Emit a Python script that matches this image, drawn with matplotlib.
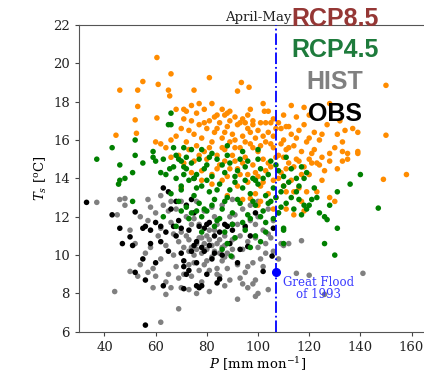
import matplotlib
matplotlib.use("Agg")
import matplotlib.pyplot as plt
import numpy as np

# April-May precipitation (mm/mon) vs surface temperature (degC)
rcp85_pts = [
    (60.5, 20.3), (66, 19.45), (55, 19.05), (81, 19.25), (93.5, 19.0), (96.5, 18.75),
    (61, 18.9), (46, 18.6), (53, 18.6), (65, 18.6), (75, 18.6), (92, 18.55), (65.5, 18.3),
    (150, 18.85), (53, 17.75), (60.5, 17.15), (52, 17.05), (44.5, 16.25), (52.5, 16.35),
    (60, 15.9), (68, 17.6), (71, 17.6), (77, 17.9), (79, 17.6), (82, 17.9), (84, 17.3),
    (87, 17.3), (89, 17.5), (91, 17.2), (96, 17.3), (98, 17.0), (102, 17.9), (102.5, 17.5),
    (113, 17.8), (118, 17.7), (120, 17.3), (128, 17.9), (132, 17.0), (134, 16.5), (137, 16.6),
    (139, 16.4), (150, 16.25), (139, 15.4), (139, 15.3), (135, 15.0), (133, 14.9), (131, 14.5),
    (128, 14.9), (124, 14.7), (120, 14.2), (158, 14.2), (149, 13.95), (128, 13.0), (130, 12.8),
    (114, 12.1), (111, 12.4), (106, 12.4), (101, 12.8), (97, 12.95), (127, 16.8), (125, 16.3),
    (131, 16.3), (133, 15.9), (130, 15.6), (133, 15.4), (135, 15.3), (128, 15.3), (125, 15.1),
    (121, 15.3),
    (68, 16.2), (70, 16.6), (71, 17.1), (72, 15.9), (73, 16.5), (74, 17.0), (75, 16.3),
    (76, 15.7), (77, 16.8), (78, 16.1), (79, 15.4), (80, 16.6), (81, 17.0), (82, 15.9),
    (83, 16.4), (84, 15.2), (85, 16.9), (86, 16.1), (87, 15.5), (88, 16.7), (89, 15.9),
    (90, 16.3), (91, 14.9), (92, 16.8), (93, 15.6), (94, 16.2), (95, 15.1), (96, 16.6),
    (97, 15.8), (98, 14.7), (99, 16.1), (100, 15.4), (101, 16.9), (102, 15.0), (103, 15.9),
    (104, 16.4), (105, 14.6), (106, 15.6), (107, 16.6), (108, 15.2), (109, 14.3), (110, 16.0),
    (111, 15.5), (112, 14.8), (113, 16.3), (114, 15.7), (115, 15.0), (116, 16.5), (117, 15.4),
    (118, 14.6), (119, 15.9), (120, 16.1), (122, 15.5), (123, 14.8), (124, 16.0),
    (69, 15.2), (71, 14.8), (73, 15.5), (75, 14.9), (76, 17.4), (78, 14.4), (79, 16.9),
    (80, 15.0), (82, 14.2), (83, 17.2), (84, 16.6), (85, 14.7), (86, 15.6), (87, 16.4),
    (88, 14.1), (89, 17.0), (90, 15.2), (91, 16.0), (92, 14.5), (93, 16.9), (94, 14.8),
    (95, 16.9), (96, 14.2), (97, 16.4), (98, 15.6), (99, 14.3), (100, 16.5), (101, 15.7),
    (102, 13.8), (103, 16.9), (104, 14.8), (105, 15.8), (106, 13.9), (107, 15.1), (108, 16.9),
    (109, 15.8), (110, 13.6), (111, 14.5), (112, 16.7), (113, 13.9), (114, 14.6), (115, 16.1),
    (116, 13.5), (117, 14.2), (119, 13.3), (121, 14.8), (126, 14.4), (115, 17.2), (110, 17.3),
    (106, 17.1), (104, 17.5), (97, 17.6), (94, 17.1), (88, 17.4), (86, 17.6), (74, 17.8),
    (72, 17.5), (66, 16.0), (64, 15.6), (66, 15.1), (62, 15.8),
    (77, 15.2), (81, 15.6), (84, 14.5), (87, 14.9), (89, 14.5), (91, 15.6), (93, 14.2),
    (95, 15.9), (96, 13.8), (98, 16.8), (100, 14.1), (101, 13.6), (102, 16.2), (103, 14.4),
    (105, 16.9), (106, 16.2), (108, 14.0), (109, 16.6), (110, 15.1), (111, 16.7), (112, 15.6),
    (114, 13.3), (116, 14.9), (118, 16.8), (120, 15.0), (122, 16.4), (92, 13.6), (86, 13.9),
    (82, 13.7), (78, 13.9), (74, 14.3), (70, 13.5), (99, 13.2), (104, 13.2), (107, 13.0),
    (111, 13.3), (117, 12.8), (125, 13.9), (123, 13.3), (118, 12.3), (100, 12.6), (94, 12.9),
    (88, 13.1),
]

rcp45_pts = [
    (37, 15.0), (43, 15.6), (46, 14.7), (46, 13.9), (45.5, 13.7), (48, 14.0), (52, 15.2),
    (52, 16.0), (51, 14.3), (51, 12.8), (55, 14.8), (59, 15.4), (59, 15.1), (60, 14.9),
    (62, 14.3), (63, 15.0), (64, 14.2), (65.5, 14.5), (66, 17.4), (65, 16.8), (66, 16.8),
    (67, 15.6), (69, 15.0), (70, 14.9), (71, 14.2), (72, 14.5), (70, 13.6),
    (140, 14.2), (136, 13.7), (131, 13.3), (128, 12.6), (147, 12.45), (126, 12.0), (124, 12.2),
    (127, 11.85), (131, 11.4), (126, 10.6), (130, 10.0), (110, 11.4), (110, 11.3), (110, 10.6),
    (120, 12.6), (118, 12.6), (116, 12.9), (115, 13.3), (119, 14.3), (123, 13.0), (89.5, 9.95),
    (66, 13.2), (68, 14.0), (69, 12.8), (70, 13.4), (71, 14.6), (72, 12.5), (73, 13.9),
    (74, 14.8), (75, 13.1), (76, 14.2), (77, 12.7), (78, 13.6), (79, 14.5), (80, 12.3),
    (81, 13.3), (82, 14.1), (83, 12.9), (84, 15.0), (85, 13.7), (86, 12.4), (87, 14.3),
    (88, 13.0), (89, 14.8), (90, 12.2), (91, 13.8), (92, 14.4), (93, 12.7), (94, 13.5),
    (95, 14.6), (96, 12.1), (97, 13.2), (98, 14.0), (99, 12.6), (100, 13.7), (101, 14.5),
    (102, 12.3), (103, 13.1), (104, 14.2), (105, 12.8), (106, 13.5), (107, 14.7), (108, 12.2),
    (109, 13.3), (110, 14.1), (111, 12.7), (112, 13.8), (113, 14.5), (114, 12.4), (116, 13.6),
    (117, 12.1), (118, 14.0), (121, 12.9), (122, 13.5),
    (67, 14.6), (70, 12.3), (72, 15.1), (74, 12.2), (75, 14.0), (77, 15.0), (78, 12.0),
    (80, 13.9), (81, 15.1), (82, 12.6), (84, 13.4), (85, 11.9), (86, 14.7), (87, 12.8),
    (88, 15.2), (89, 13.4), (90, 11.6), (91, 14.1), (92, 12.9), (93, 15.0), (94, 11.7),
    (95, 13.9), (96, 14.9), (97, 11.9), (98, 12.8), (99, 13.9), (100, 15.0), (101, 12.0),
    (102, 14.0), (103, 11.7), (104, 12.7), (105, 14.9), (106, 11.9), (107, 13.0), (108, 14.4),
    (109, 12.5), (110, 13.6), (111, 15.1), (113, 13.0), (115, 14.0), (117, 14.6), (119, 12.4),
    (79, 12.4), (83, 11.5), (87, 11.2), (88, 10.6), (91, 10.9), (95, 11.3), (99, 11.0),
    (101, 10.7), (86, 10.3), (84, 11.8), (76, 12.3), (73, 11.9), (68, 11.5), (63, 12.0),
    (78, 11.2), (103, 11.2), (97, 10.4),
    (74, 15.5), (78, 15.5), (82, 15.3), (88, 15.7), (94, 15.4), (100, 15.5), (71, 15.6),
    (68, 15.2), (76, 13.5), (80, 14.7),
]

hist_pts = [
    (37, 12.75), (44, 8.1), (46, 12.9), (48, 12.95), (50, 9.15), (62, 6.5), (64, 7.95),
    (69, 7.2), (92, 7.7), (99, 7.85), (100, 8.0), (104, 8.2), (109, 10.6), (112, 10.6),
    (117, 10.75), (115, 9.05), (120, 8.95), (126, 7.95), (141, 9.05), (103, 10.6),
    (57, 11.8), (58, 10.4), (59, 9.3), (60, 12.2), (61, 11.0), (62, 9.8), (63, 12.6),
    (64, 10.5), (65, 9.0), (66, 11.7), (67, 10.0), (68, 12.4), (69, 8.8), (70, 11.2),
    (71, 10.4), (72, 12.0), (73, 9.5), (74, 11.6), (75, 10.0), (76, 12.8), (77, 9.2),
    (78, 10.9), (79, 12.3), (80, 9.7), (81, 11.3), (82, 10.5), (83, 12.0), (84, 9.3),
    (85, 10.8), (86, 12.6), (87, 9.9), (88, 11.5), (89, 8.7), (90, 10.3), (91, 12.1),
    (92, 9.5), (93, 11.0), (94, 12.4), (95, 9.1), (96, 10.7), (97, 11.8), (98, 9.6),
    (99, 10.9), (100, 12.0), (101, 9.8), (102, 11.3), (103, 10.1), (104, 12.4), (105, 10.9),
    (56, 10.1), (58, 12.5), (60, 8.9), (62, 11.4), (64, 8.6), (65, 12.3), (67, 11.1),
    (68, 9.4), (69, 10.7), (70, 12.8), (71, 9.0), (72, 11.0), (73, 10.8), (74, 8.9),
    (75, 11.9), (76, 10.3), (77, 11.6), (78, 8.6), (79, 10.6), (80, 11.0), (81, 9.2),
    (82, 12.5), (83, 10.2), (84, 11.6), (85, 8.9), (86, 10.4), (87, 11.0), (88, 9.3),
    (89, 12.0), (90, 9.9), (91, 10.9), (92, 11.6), (93, 8.8), (94, 10.3), (95, 11.4),
    (96, 9.4), (97, 12.6), (98, 8.5), (99, 11.6), (100, 10.4), (102, 9.4), (104, 11.1),
    (106, 10.2),
    (76, 10.6), (78, 10.1), (80, 10.3), (82, 9.9), (84, 10.6), (86, 9.7), (83, 11.3),
    (79, 9.5), (81, 10.8), (85, 10.1), (87, 10.5), (77, 10.9), (75, 9.6), (73, 10.2),
    (88, 10.1), (90, 10.8), (84, 9.0), (74, 10.4),
    (50, 11.3), (52, 10.6), (54, 12.0), (54, 9.5), (53, 8.9), (57, 9.1), (59, 8.3),
    (66, 8.3), (70, 8.3), (73, 8.2), (76, 8.0), (81, 8.1), (87, 8.4), (94, 8.5), (96, 8.3),
    (99, 8.7), (108, 9.8), (106, 11.8), (110, 10.5), (108, 12.2), (45, 12.1), (48, 12.6),
    (57, 12.9), (62, 13.1), (66, 12.8), (90, 12.9), (100, 12.8),
]

obs_pts = [
    (33, 12.75), (43, 12.1), (46, 11.4), (47, 10.6), (50, 10.95), (51, 10.5), (52, 12.25),
    (52, 9.1), (55, 11.4), (56, 11.5), (56, 8.7), (56, 6.35), (55, 9.8), (58, 10.6),
    (60, 11.7), (62, 11.5), (63, 8.4), (63, 13.5), (65, 13.3), (66, 12.4), (67, 11.5),
    (68, 11.0), (70, 11.4), (71, 9.4), (72, 9.0), (71, 8.25), (74, 10.2), (75, 12.2),
    (75, 14.0), (76, 8.4), (77, 8.3), (78, 8.4), (76, 9.6), (79, 10.2), (82, 9.8),
    (84, 8.55), (85, 8.75), (83, 10.1), (85, 11.2), (87, 11.6), (88, 11.5), (90, 11.6),
    (90, 11.3), (89, 10.6), (93, 10.3), (96, 10.45), (97, 11.0), (99, 12.2), (102, 9.15),
    (106, 11.4), (105.5, 9.95), (79, 11.4), (80, 11.6), (81, 11.7), (83, 11.0), (73, 11.3),
    (75, 10.5), (76, 10.7), (78, 10.4), (72, 12.6), (68, 12.8), (74, 12.9), (77, 11.5),
    (70, 10.1), (65, 10.2), (62, 10.7), (60, 9.6), (71, 9.7), (73, 9.2), (80, 9.0),
    (81, 10.5), (86, 10.0), (92, 9.6), (95, 11.5), (64, 11.2), (58, 11.3), (69, 11.8),
]

flood_p = 107
flood_t = 9.1

series = [
    (hist_pts, "gray"),
    (obs_pts, "black"),
    (rcp85_pts, "darkorange"),
    (rcp45_pts, "green"),
]

plt.rcParams['font.family'] = 'DejaVu Serif'
plt.rcParams['mathtext.fontset'] = 'dejavuserif'

fig = plt.figure(figsize=(4.24, 3.72), dpi=100)
ax = fig.add_axes([0.186, 0.108, 0.845, 0.825])

for pts, c in series:
    arr = np.array(pts)
    ax.scatter(arr[:, 0], arr[:, 1], s=16, color=c, edgecolors='none', zorder=2)

ax.axvline(flood_p, color='blue', ls='-.', lw=1.3, zorder=3)
ax.plot(flood_p, flood_t, 'o', color='blue', ms=5.5, zorder=4)
ax.text(flood_p + 16.5, flood_t - 0.2, "Great Flood\nof 1993", color='#3b3bff',
        fontsize=8.5, ha='center', va='top', linespacing=0.85)

ax.set_xlim(30, 170)
ax.set_ylim(6, 22)
ax.set_xticks([40, 60, 80, 100, 120, 140, 160])
ax.set_yticks([6, 8, 10, 12, 14, 16, 18, 20, 22])
ax.tick_params(labelsize=9.5, color='#444444', labelcolor='#222222', length=3)
ax.spines['right'].set_visible(False)
for sp in ['left', 'top', 'bottom']:
    ax.spines[sp].set_color('#555555')
ax.set_xlabel(r"$P$ [mm mon$^{-1}$]", fontsize=9.5, labelpad=1)
ax.set_ylabel(r"$T_s$ [$^{\rm o}$C]", fontsize=9.5, labelpad=3)
ax.set_title("April-May", fontsize=9.5, pad=3, color='#222222')

# overlaid scenario labels
labels = ["RCP8.5", "RCP4.5", "HIST", "OBS"]
label_colors = ["#953735", "#1e7b3c", "#808080", "#000000"]
label_y = [0.949, 0.865, 0.779, 0.694]
for t, c, y in zip(labels, label_colors, label_y):
    fig.text(0.79, y, t, color=c, fontsize=18, fontweight='bold',
             family='Liberation Sans', ha='center', va='center')

fig.savefig("out.png", dpi=100)
